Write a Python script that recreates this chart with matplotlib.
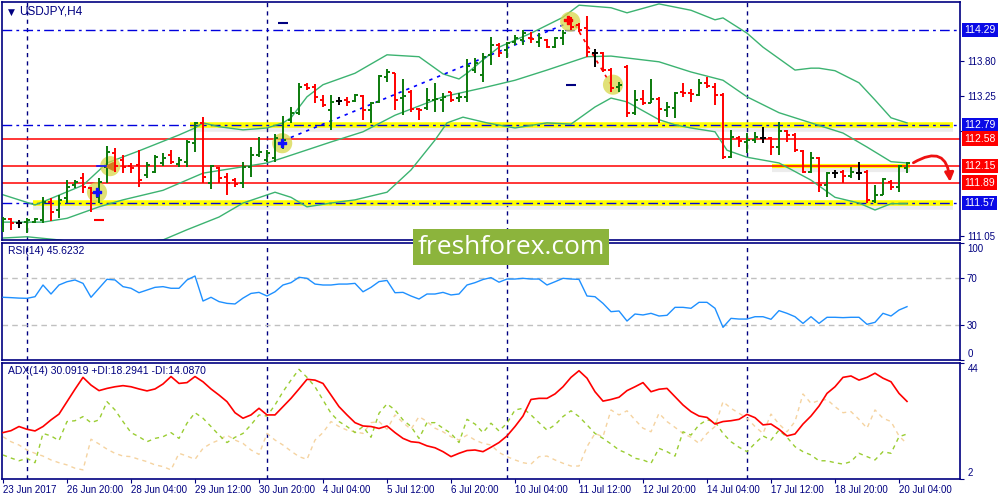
import numpy as np
import matplotlib.pyplot as plt
import matplotlib.patheffects as pe
import matplotlib.transforms as mtransforms
from matplotlib.patches import Rectangle, FancyArrowPatch

plt.rcParams['font.family'] = ['Liberation Sans', 'DejaVu Sans']

# USDJPY H4 bars, 23 Jun 2017 12:00 ... 20 Jul 2017 08:00
opens = [111.24, 111.32, 111.26, 111.27, 111.27, 111.30, 111.59, 111.46, 111.65, 111.85,
         111.96, 111.81, 111.66, 112.14, 112.36, 112.25, 112.15, 112.17, 112.01, 112.06,
         112.20, 112.33, 112.18, 112.22, 112.51, 112.83, 111.89, 112.12, 111.98, 111.93,
         111.89, 112.14, 112.33, 112.25, 112.28, 112.51, 112.88, 112.99, 113.43, 113.39,
         113.19, 113.03, 113.17, 113.19, 113.17, 113.25, 113.03, 113.16, 113.55, 113.61,
         113.22, 113.32, 113.05, 113.06, 113.19, 113.19, 113.32, 113.22, 113.24, 113.66,
         113.58, 113.90, 114.05, 113.98, 114.10, 114.13, 114.17, 114.10, 114.13, 114.02,
         114.17, 114.42, 114.37, 114.32, 113.93, 113.93, 113.66, 113.39, 113.71, 112.99,
         113.21, 113.14, 113.21, 113.03, 113.06, 113.32, 113.30, 113.27, 113.46, 113.39,
         113.27, 112.29, 112.59, 112.53, 112.56, 112.59, 112.59, 112.45, 112.70, 112.64,
         112.39, 112.06, 112.28, 111.85, 112.04, 112.06, 112.00, 112.04, 112.06, 111.60,
         111.70, 111.90, 111.82, 112.12]
highs = [111.35, 111.33, 111.30, 111.33, 111.33, 111.66, 111.65, 111.70, 111.93, 111.93,
         112.04, 111.82, 111.96, 112.47, 112.44, 112.33, 112.20, 112.40, 112.22, 112.33,
         112.36, 112.40, 112.29, 112.56, 112.84, 112.92, 112.17, 112.14, 112.04, 111.96,
         112.22, 112.45, 112.61, 112.40, 112.66, 112.94, 113.08, 113.46, 113.46, 113.44,
         113.27, 113.27, 113.24, 113.24, 113.29, 113.27, 113.16, 113.58, 113.68, 113.61,
         113.52, 113.35, 113.06, 113.38, 113.46, 113.30, 113.32, 113.30, 113.83, 113.85,
         113.93, 114.18, 114.09, 114.10, 114.21, 114.29, 114.26, 114.24, 114.15, 114.18,
         114.29, 114.49, 114.40, 114.51, 113.99, 113.94, 113.69, 113.47, 113.74, 113.35,
         113.35, 113.52, 113.24, 113.16, 113.32, 113.46, 113.36, 113.52, 113.55, 113.46,
         113.30, 112.72, 112.62, 112.67, 112.69, 112.77, 112.61, 112.84, 112.72, 112.67,
         112.40, 112.37, 112.29, 112.06, 112.09, 112.09, 112.14, 112.22, 112.09, 111.85,
         111.96, 111.93, 112.17, 112.22]
lows = [111.11, 111.15, 111.18, 111.10, 111.26, 111.26, 111.29, 111.33, 111.57, 111.81,
        111.73, 111.43, 111.57, 111.89, 112.06, 112.04, 112.04, 111.82, 111.96, 112.04,
        112.15, 112.18, 112.14, 112.14, 112.37, 111.89, 111.79, 111.89, 111.70, 111.82,
        111.81, 111.98, 112.29, 112.22, 112.22, 112.42, 112.83, 112.95, 113.35, 113.14,
        113.08, 112.72, 113.11, 113.10, 113.16, 112.88, 112.83, 113.14, 113.47, 113.03,
        112.95, 113.00, 112.88, 113.03, 113.00, 113.00, 113.16, 113.16, 113.16, 113.61,
        113.47, 113.74, 113.87, 113.85, 114.05, 114.05, 114.09, 114.02, 114.01, 114.01,
        114.05, 114.29, 114.26, 113.87, 113.71, 113.63, 113.32, 113.32, 112.92, 112.95,
        113.11, 113.14, 112.83, 112.92, 112.91, 113.24, 113.16, 113.25, 113.38, 113.11,
        112.26, 112.28, 112.45, 112.36, 112.51, 112.51, 112.33, 112.33, 112.53, 112.37,
        112.04, 112.04, 111.74, 111.66, 111.96, 111.89, 111.96, 111.93, 111.57, 111.57,
        111.70, 111.77, 111.74, 112.04]
closes = [111.32, 111.26, 111.26, 111.30, 111.32, 111.59, 111.43, 111.62, 111.82, 111.90,
          111.82, 111.73, 111.90, 112.37, 112.15, 112.14, 112.12, 111.93, 112.17, 112.29,
          112.28, 112.22, 112.25, 112.53, 112.83, 111.98, 112.15, 111.96, 111.89, 111.87,
          112.14, 112.33, 112.37, 112.36, 112.59, 112.56, 112.99, 113.39, 113.38, 113.24,
          113.11, 113.16, 113.17, 113.16, 113.27, 113.03, 113.14, 113.57, 113.63, 113.19,
          113.25, 113.05, 113.03, 113.19, 113.21, 113.24, 113.19, 113.24, 113.72, 113.77,
          113.87, 114.05, 113.93, 114.09, 114.17, 114.24, 114.15, 114.17, 114.02, 114.17,
          114.24, 114.34, 114.29, 113.94, 113.93, 113.66, 113.38, 113.43, 112.99, 113.19,
          113.14, 113.21, 113.05, 113.08, 113.30, 113.30, 113.29, 113.46, 113.41, 113.27,
          112.29, 112.61, 112.55, 112.56, 112.61, 112.59, 112.45, 112.70, 112.64, 112.40,
          112.06, 112.28, 111.85, 112.04, 112.04, 112.00, 112.06, 112.04, 111.62, 111.70,
          111.95, 111.82, 112.15, 112.20]

# Bollinger bands (bar index, price)
ub_x = [0, 4, 5, 10, 13, 17, 20, 22, 24, 25, 27, 30, 33, 35, 36, 38, 40, 44, 48, 52,
        55, 57, 58, 60, 62, 66, 70, 72, 76, 78, 82, 86, 89, 90, 93, 95, 99, 101, 102, 104,
        107, 109, 111, 113]
ub = [111.70, 111.54, 111.59, 111.85, 112.20, 112.39, 112.54, 112.64, 112.75, 112.83,
      112.77, 112.72, 112.75, 112.83, 112.91, 113.24, 113.43, 113.61, 113.90, 113.87,
      113.60, 113.52, 113.61, 113.82, 114.02, 114.24, 114.49, 114.68, 114.64, 114.56,
      114.70, 114.60, 114.45, 114.48, 114.24, 114.02, 113.66, 113.69, 113.69, 113.65,
      113.46, 113.19, 112.91, 112.83]
mb_x = [0, 5, 8, 12, 15, 20, 25, 29, 33, 35, 41, 45, 49, 55, 60, 64, 68, 73, 76, 82,
        86, 90, 93, 97, 101, 105, 108, 111, 113]
mb = [111.27, 111.27, 111.33, 111.51, 111.62, 111.77, 112.04, 112.12, 112.20, 112.28,
      112.53, 112.69, 112.95, 113.24, 113.38, 113.50, 113.66, 113.87, 113.88, 113.79,
      113.63, 113.50, 113.24, 112.99, 112.83, 112.67, 112.45, 112.22, 112.20]
lb_x = [0, 3, 7, 12, 20, 23, 27, 30, 34, 36, 38, 41, 44, 48, 51, 54, 55.5, 57.5, 60.5, 64,
        68, 71, 74, 76, 78, 82, 84, 86, 89, 90.5, 93, 97, 101, 104, 107, 109, 111, 113]
lb = [111.02, 111.04, 110.99, 110.89, 110.99, 111.15, 111.35, 111.57, 111.74, 111.66,
      111.51, 111.57, 111.62, 111.74, 112.09, 112.56, 112.83, 112.92, 112.83, 112.75,
      112.83, 112.81, 113.08, 113.22, 113.16, 112.88, 112.80, 112.75, 112.69, 112.40,
      112.29, 112.20, 111.93, 111.66, 111.57, 111.46, 111.56, 111.56]

rsi = [53.6, 53.3, 52.9, 52.7, 54.1, 64.1, 56.4, 64.1, 66.9, 68.4,
       65.5, 53.6, 61.3, 69.0, 68.4, 62.7, 61.3, 57.5, 59.8, 62.1,
       62.7, 61.3, 61.3, 68.4, 71.8, 50.4, 53.6, 49.9, 48.4, 47.9,
       52.9, 56.9, 57.8, 54.7, 58.3, 64.1, 66.1, 70.7, 69.8, 64.9,
       64.1, 64.1, 64.9, 64.9, 65.5, 58.3, 62.1, 67.0, 68.0, 57.5,
       57.8, 54.7, 52.1, 56.4, 56.4, 57.8, 55.6, 56.4, 64.1, 66.1,
       68.8, 70.4, 66.5, 69.2, 69.2, 69.8, 69.2, 69.2, 64.1, 66.9,
       69.8, 69.2, 68.9, 54.7, 54.1, 48.4, 41.3, 41.9, 33.3, 39.3,
       38.5, 39.9, 37.6, 38.2, 45.0, 45.0, 44.2, 49.3, 49.3, 44.2,
       27.9, 35.6, 35.0, 35.0, 37.0, 37.0, 34.8, 42.2, 39.9, 37.0,
       31.3, 37.0, 31.3, 36.5, 36.5, 36.2, 36.5, 36.5, 30.5, 32.2,
       39.9, 37.6, 42.7, 45.6]

adx = [18.8, 19.5, 21.0, 20.0, 19.4, 21.0, 23.4, 25.5, 30.0, 34.5,
       38.8, 36.0, 34.0, 34.8, 35.4, 35.8, 35.4, 34.6, 33.9, 34.6,
       36.4, 39.1, 36.6, 36.9, 39.1, 37.2, 34.6, 32.4, 30.0, 26.0,
       24.0, 25.2, 27.6, 25.2, 25.2, 28.2, 31.2, 34.6, 38.1, 37.8,
       36.6, 32.4, 28.2, 25.2, 22.4, 21.2, 21.0, 20.3, 21.2, 18.8,
       16.7, 15.5, 15.2, 14.0, 13.3, 11.9, 10.1, 11.3, 12.3, 12.5,
       11.9, 13.5, 15.2, 17.6, 21.0, 24.8, 30.8, 31.2, 31.2, 32.8,
       35.4, 38.8, 41.2, 38.5, 33.6, 30.2, 30.8, 31.6, 34.0, 35.4,
       36.9, 33.6, 34.5, 34.8, 31.8, 28.8, 26.4, 24.8, 24.3, 21.9,
       22.8, 23.1, 23.6, 25.4, 24.2, 21.6, 21.9, 20.0, 17.6, 18.3,
       21.9, 24.8, 28.4, 33.0, 35.4, 38.8, 39.3, 37.8, 38.8, 40.3,
       38.5, 37.2, 33.0, 30.1]
plus_di = [10.7, 9.6, 8.6, 9.5, 7.9, 18.5, 17.6, 15.9, 22.8, 23.1,
           24.6, 22.4, 23.4, 30.0, 27.0, 22.8, 18.8, 17.3, 15.5, 16.7,
           17.3, 18.8, 16.7, 22.2, 26.0, 24.0, 21.0, 17.9, 15.2, 17.1,
           18.5, 21.6, 25.2, 24.8, 28.8, 33.6, 37.8, 41.7, 38.8, 35.4,
           30.6, 25.8, 22.8, 21.0, 18.8, 21.0, 17.1, 25.8, 29.2, 27.0,
           23.4, 21.0, 16.7, 22.4, 22.4, 20.4, 18.5, 15.2, 23.6, 21.9,
           18.8, 22.2, 19.4, 22.2, 27.0, 27.6, 25.2, 22.4, 19.7, 21.6,
           24.6, 26.7, 24.6, 21.6, 18.5, 16.7, 14.7, 12.5, 11.3, 9.5,
           8.9, 7.7, 13.1, 11.9, 10.3, 19.1, 17.9, 21.6, 23.4, 22.8,
           18.5, 15.5, 13.5, 11.9, 14.9, 17.6, 16.1, 19.7, 17.1, 13.7,
           11.9, 10.7, 8.6, 8.6, 7.9, 7.4, 8.3, 11.3, 10.1, 8.9,
           11.9, 11.3, 17.3, 18.3]
minus_di = [17.3, 15.5, 14.3, 12.5, 11.3, 10.3, 8.9, 7.9, 7.1, 5.9,
            5.3, 16.4, 14.7, 12.8, 11.3, 10.3, 10.1, 9.1, 8.3, 7.1,
            6.5, 5.3, 11.3, 10.3, 9.1, 13.1, 14.9, 16.1, 17.9, 16.1,
            14.9, 12.5, 10.9, 18.5, 16.1, 14.3, 12.1, 10.1, 9.1, 16.1,
            18.8, 22.8, 21.0, 19.7, 19.1, 18.5, 22.4, 22.8, 20.0, 25.2,
            22.4, 20.0, 24.6, 22.8, 20.4, 19.1, 17.3, 16.1, 17.9, 16.1,
            14.9, 14.3, 11.6, 10.1, 8.9, 7.9, 7.4, 10.1, 10.3, 8.9,
            7.7, 6.7, 6.7, 13.7, 18.5, 17.3, 27.0, 25.2, 26.7, 23.4,
            20.4, 19.1, 25.8, 22.8, 20.7, 18.5, 17.1, 14.9, 18.5, 21.0,
            30.0, 27.6, 25.8, 24.0, 21.0, 18.5, 25.5, 21.9, 19.1, 22.8,
            32.8, 29.4, 30.4, 30.8, 28.2, 26.0, 26.4, 23.6, 20.4, 27.0,
            24.0, 22.8, 17.6, 14.7]

date_ticks = [0, 8, 16, 24, 32, 40, 48, 56, 64, 72, 80, 88, 96, 104, 112]
date_labels = ['23 Jun 2017', '26 Jun 20:00', '28 Jun 04:00', '29 Jun 12:00', '30 Jun 20:00',
               '4 Jul 04:00', '5 Jul 12:00', '6 Jul 20:00', '10 Jul 04:00', '11 Jul 12:00',
               '12 Jul 20:00', '14 Jul 04:00', '17 Jul 12:00', '18 Jul 20:00', '20 Jul 04:00']
week_starts = [3, 33, 63, 93]

# support / resistance levels
blue_levels = [114.29, 112.79, 111.57]
red_levels = [112.58, 112.15, 111.89]
plain_ticks = [113.80, 113.25, 112.70, 111.05]

# signals drawn on the chart (bar, price)
circles_x = [11.75, 13.4, 34.9, 70.9, 76.25]
circles_y = [111.74, 112.15, 112.51, 114.42, 113.43]
buy_x = [11.75, 34.9]
buy_y = [111.74, 112.51]
trend_blue_x = [35, 71]
trend_blue_y = [112.55, 114.42]
trend_red_x = [71.5, 76]
trend_red_y = [114.37, 113.43]

NAVY = '#000080'
GREEN = '#0b7a0b'
x = np.arange(len(opens))
XMIN, XMAX = -0.125, 119.625

fig = plt.figure(figsize=(10, 5), dpi=100)
ax0 = fig.add_axes([0.002, 0.52, 0.958, 0.476])
ax1 = fig.add_axes([0.002, 0.28, 0.958, 0.234])
ax2 = fig.add_axes([0.002, 0.042, 0.958, 0.232])

for ax in (ax0, ax1, ax2):
    ax.set_xlim(XMIN, XMAX)
    for s in ax.spines.values():
        s.set_color(NAVY)
        s.set_linewidth(1.2)
    ax.tick_params(axis='x', bottom=False, labelbottom=False)
    ax.yaxis.tick_right()
    ax.tick_params(axis='y', colors=NAVY, labelcolor=NAVY, labelsize=7, length=3, pad=2)
    for b in week_starts:
        ax.axvline(b, color=NAVY, lw=1, ls=(0, (3, 3)), zorder=1)

# ---------------- main price panel ----------------
ax0.set_ylim(110.989, 114.730)
ax0.set_yticks(plain_ticks)
ax0.set_yticklabels(['%.2f' % v for v in plain_ticks])

shadow = [pe.SimpleLineShadow(offset=(0, -2.5), alpha=0.15, shadow_color='gray'), pe.Normal()]
ax0.plot([23.4, 118.75], [112.79, 112.79], color='#ffff00', lw=4, zorder=1, path_effects=shadow, solid_capstyle='butt')
ax0.plot([3.75, 118.75], [111.57, 111.57], color='#ffff00', lw=4, zorder=1, path_effects=shadow, solid_capstyle='butt')
ax0.plot([96.1, 113.4], [112.15, 112.15], color='#ffff00', lw=3, zorder=1, path_effects=shadow, solid_capstyle='butt')

for lv in blue_levels:
    ax0.axhline(lv, color='#0000dd', lw=1, ls=(0, (7, 3, 2, 3)), zorder=2)
for lv in red_levels:
    ax0.axhline(lv, color='#ff0000', lw=1.1, zorder=2)

ax0.plot(ub_x, ub, color='#3cb371', lw=1, zorder=2)
ax0.plot(mb_x, mb, color='#3cb371', lw=1, zorder=2)
ax0.plot(lb_x, lb, color='#3cb371', lw=1, zorder=2)

ax0.plot(trend_blue_x, trend_blue_y, color='#0000ff', lw=1.2, ls=(0, (2, 3)), zorder=2)
ax0.plot(trend_red_x, trend_red_y, color='#ff0000', lw=1.2, ls=(0, (2, 3)), zorder=2)

ax0.scatter(circles_x, circles_y, s=210, color='#d8d84a', alpha=0.75, edgecolors='none', zorder=3)

colors = []
for o, c in zip(opens, closes):
    if abs(c - o) < 1e-9:
        colors.append('black')
    elif c > o:
        colors.append(GREEN)
    else:
        colors.append('#ff0000')
ax0.vlines(x, lows, highs, colors=colors, lw=1.4, zorder=4)
ax0.hlines(opens, x - 0.38, x, colors=colors, lw=1.4, zorder=4)
ax0.hlines(closes, x, x + 0.38, colors=colors, lw=1.4, zorder=4)

ax0.scatter(buy_x, buy_y, marker='P', s=40, color='#1010ff', zorder=5)
ax0.scatter([70.6], [114.45], marker='P', s=40, color='#ff0000', zorder=5)
ax0.scatter([13.2], [112.15], marker='<', s=30, color='#d08020', zorder=5)
ax0.plot([11.75, 12.9], [112.15, 112.15], color='#1010ff', lw=1.2, zorder=5)
ax0.scatter([12], [111.30], marker='_', s=60, color='#ff0000', linewidths=1.5, zorder=5)
ax0.scatter([35, 71], [114.40, 113.43], marker='_', s=60, color=NAVY, linewidths=1.5, zorder=5)

arrow = FancyArrowPatch((113.5, 112.18), (118.4, 111.86), connectionstyle='arc3,rad=-0.85',
                        arrowstyle='-|>', mutation_scale=13, color='#ee1111', lw=2, zorder=6)
ax0.add_patch(arrow)

trans0 = mtransforms.blended_transform_factory(ax0.transAxes, ax0.transData)
for lv in blue_levels:
    ax0.text(1.0045, lv, '%.2f' % lv, transform=trans0, fontsize=7.5, color='white', va='center',
             ha='left', clip_on=False, zorder=7,
             bbox=dict(boxstyle='square,pad=0.22', fc='#0a0ae6', ec='none'))
for lv in red_levels:
    ax0.text(1.0045, lv, '%.2f' % lv, transform=trans0, fontsize=7.5, color='white', va='center',
             ha='left', clip_on=False, zorder=7,
             bbox=dict(boxstyle='square,pad=0.22', fc='#ff0000', ec='none'))

ax0.text(0.006, 0.958, '\u25bc', transform=ax0.transAxes, fontsize=6.5, color=NAVY, va='center',
         family='DejaVu Sans')
ax0.text(0.018, 0.958, 'USDJPY,H4', transform=ax0.transAxes, fontsize=8.5, color=NAVY, va='center')

# ---------------- RSI panel ----------------
ax1.set_ylim(0, 100)
ax1.axhline(70, color='#c0c0c0', lw=1, ls=(0, (4, 3)), zorder=1)
ax1.axhline(30, color='#c0c0c0', lw=1, ls=(0, (4, 3)), zorder=1)
ax1.plot(x, rsi, color='#1e90ff', lw=1, zorder=3)
ax1.set_yticks([0, 30, 70, 100])
ax1.set_yticklabels(['', '30', '70', ''])
trans1 = mtransforms.blended_transform_factory(ax1.transAxes, ax1.transData)
ax1.text(1.008, 99, '100', transform=trans1, fontsize=7, color=NAVY, va='top', clip_on=False)
ax1.text(1.008, 1, '0', transform=trans1, fontsize=7, color=NAVY, va='bottom', clip_on=False)
ax1.text(0.006, 0.93, 'RSI(14) 45.6232', transform=ax1.transAxes, fontsize=7.5, color=NAVY, va='center')

# ---------------- ADX panel ----------------
ax2.set_ylim(2, 44)
ax2.plot(x, minus_di, color='#f5d3a0', lw=1, ls=(0, (3, 3)), zorder=2)
ax2.plot(x, plus_di, color='#9acd32', lw=1, ls=(0, (3, 3)), zorder=2)
ax2.plot(x, adx, color='#ff0000', lw=1.2, zorder=3)
ax2.set_yticks([2, 44])
ax2.set_yticklabels(['', ''])
trans2 = mtransforms.blended_transform_factory(ax2.transAxes, ax2.transData)
ax2.text(1.008, 43.5, '44', transform=trans2, fontsize=7, color=NAVY, va='top', clip_on=False)
ax2.text(1.008, 2.5, '2', transform=trans2, fontsize=7, color=NAVY, va='bottom', clip_on=False)
ax2.text(0.006, 0.93, 'ADX(14) 30.0919 +DI:18.2941 -DI:14.0870', transform=ax2.transAxes,
         fontsize=7.5, color=NAVY, va='center')

ax2.tick_params(axis='x', bottom=True, labelbottom=True, colors=NAVY, labelcolor=NAVY,
                labelsize=7, length=3, pad=1.5)
ax2.set_xticks(date_ticks)
ax2.set_xticklabels(date_labels, ha='left')

# watermark
fig.patches.append(Rectangle((0.413, 0.47), 0.196, 0.072, transform=fig.transFigure,
                             facecolor='#8cb43c', edgecolor='none', zorder=10))
fig.text(0.511, 0.505, 'freshforex.com', ha='center', va='center', color='white',
         fontsize=19, family='Open Sans', zorder=11)

fig.savefig('out.png', dpi=100, facecolor='white')
